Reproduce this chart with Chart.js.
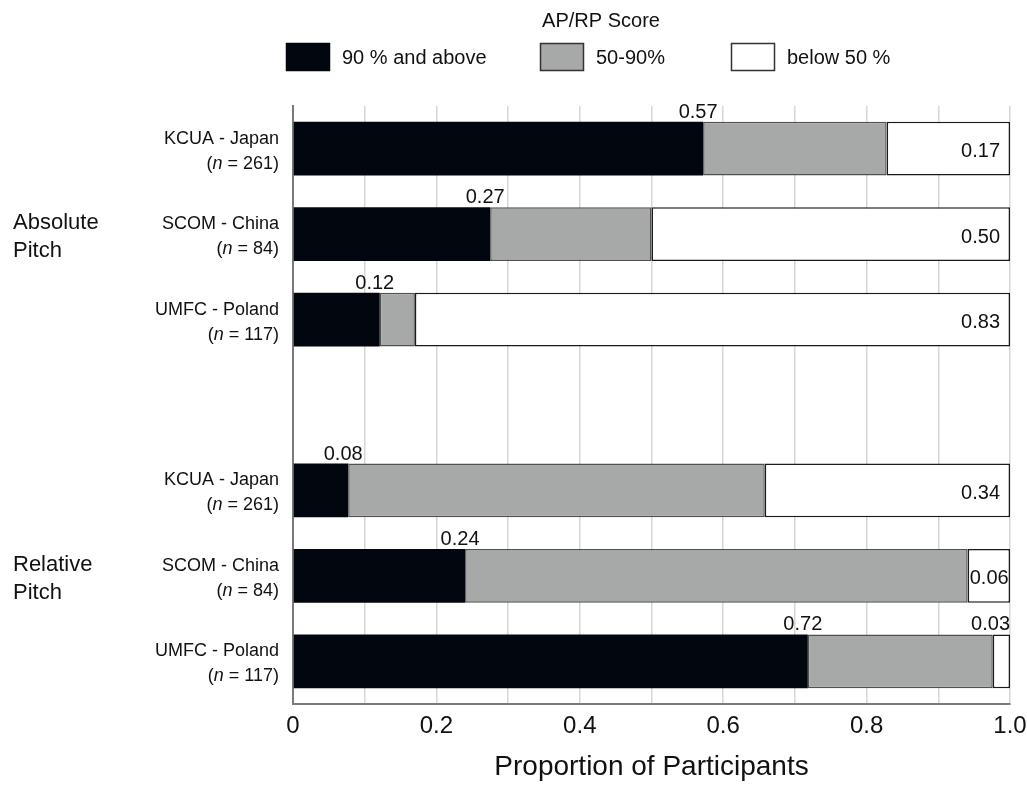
<!DOCTYPE html>
<html lang="en">
<head>
  <meta charset="UTF-8">
  <title>AP/RP Score</title>
  <style>
    body {
      margin: 0;
      background: #ffffff;
    }

    .wrap {
      position: relative;
      width: 1027px;
      height: 785px;
    }
  </style>
</head>
<body>

  <div class="wrap">
    <canvas id="scoreChart"></canvas>
  </div>

  <script src="https://cdn.jsdelivr.net/npm/chart.js"></script>
  <script>
    // rows top to bottom, one empty slot between the two groups
    const schools = ['KCUA - Japan', 'SCOM - China', 'UMFC - Poland', '', 'KCUA - Japan', 'SCOM - China', 'UMFC - Poland'];
    const sampleSizes = ['261', '84', '117', '', '261', '84', '117'];
    const groupNames = [['Absolute', 'Pitch'], ['Relative', 'Pitch']];
    const groupRows = [1, 5];

    const seriesNames = ['90 % and above', '50-90%', 'below 50 %'];
    const above90 = [0.572, 0.275, 0.121, null, 0.077, 0.240, 0.718];
    const from50to90 = [0.256, 0.225, 0.049, null, 0.581, 0.701, 0.258];
    const below50 = [0.172, 0.500, 0.830, null, 0.342, 0.059, 0.024];

    const above90Text = ['0.57', '0.27', '0.12', '', '0.08', '0.24', '0.72'];
    const below50Text = ['0.17', '0.50', '0.83', '', '0.34', '0.06', '0.03'];

    const xTickLabels = ['0', '0.2', '0.4', '0.6', '0.8', '1.0'];

    const FONT = '"Liberation Sans", Arial, Helvetica, sans-serif';
    const colors = ['#02060e', '#a6a9a8', '#ffffff'];
    const borders = ['#02060e', '#505050', '#1a1a1a'];

    const extrasPlugin = {
      id: 'extras',
      afterDraw(chart) {
        const ctx = chart.ctx;
        const xs = chart.scales.x;
        const ys = chart.scales.y;
        ctx.save();
        ctx.fillStyle = '#111';

        // legend
        ctx.font = '20px ' + FONT;
        ctx.textAlign = 'center';
        ctx.textBaseline = 'middle';
        ctx.fillText('AP/RP Score', 601, 21);
        const boxX = [286, 540, 731];
        ctx.textAlign = 'left';
        seriesNames.forEach((name, i) => {
          ctx.fillStyle = colors[i];
          ctx.fillRect(boxX[i], 43, 44, 28);
          ctx.strokeStyle = i === 0 ? colors[0] : '#333';
          ctx.lineWidth = 1.5;
          ctx.strokeRect(boxX[i] + 0.5, 43.5, 43, 27);
          ctx.fillStyle = '#111';
          ctx.fillText(name, boxX[i] + 56, 58);
        });

        // row labels
        schools.forEach((name, i) => {
          if (!name) return;
          const cy = ys.getPixelForValue(i);
          const right = xs.left - 14;
          ctx.textAlign = 'right';
          ctx.font = '18px ' + FONT;
          ctx.fillText(name, right, cy - 10);
          // "(n = 261)" with italic n
          const tail = ' = ' + sampleSizes[i] + ')';
          const wTail = ctx.measureText(tail).width;
          const wOpen = ctx.measureText('(').width;
          ctx.font = 'italic 18px ' + FONT;
          const wN = ctx.measureText('n').width;
          ctx.textAlign = 'left';
          let x = right - wTail - wN - wOpen;
          ctx.font = '18px ' + FONT;
          ctx.fillText('(', x, cy + 15);
          ctx.font = 'italic 18px ' + FONT;
          ctx.fillText('n', x + wOpen, cy + 15);
          ctx.font = '18px ' + FONT;
          ctx.fillText(tail, x + wOpen + wN, cy + 15);
        });

        // group labels
        ctx.font = '22px ' + FONT;
        ctx.textAlign = 'left';
        groupNames.forEach((lines, g) => {
          const cy = ys.getPixelForValue(groupRows[g]);
          ctx.fillText(lines[0], 13, cy - 11);
          ctx.fillText(lines[1], 13, cy + 17);
        });

        // value labels
        ctx.font = '20px ' + FONT;
        const metaTop = chart.getDatasetMeta(0);
        const metaWhite = chart.getDatasetMeta(2);
        schools.forEach((name, i) => {
          if (!name) return;
          const bar = metaTop.data[i];
          const top = bar.y - bar.height / 2;
          ctx.textAlign = 'center';
          ctx.textBaseline = 'alphabetic';
          ctx.fillText(above90Text[i], bar.x - 5, top - 4);

          const wb = metaWhite.data[i];
          const segStart = wb.base;
          const segEnd = wb.x;
          const w = ctx.measureText(below50Text[i]).width;
          if (w + 2 > segEnd - segStart) {
            ctx.textAlign = 'right';
            ctx.fillText(below50Text[i], segEnd, top - 4);
          } else {
            ctx.textAlign = 'right';
            ctx.textBaseline = 'middle';
            const r = Math.max(segEnd - 10, segStart + w + 2);
            ctx.fillText(below50Text[i], r, wb.y + 3);
          }
        });
        ctx.restore();
      }
    };

    const ctx = document.getElementById('scoreChart').getContext('2d');
    const scoreChart = new Chart(ctx, {
      type: 'bar',
      data: {
        labels: schools,
        datasets: [above90, from50to90, below50].map((vals, i) => ({
          label: seriesNames[i],
          data: vals,
          backgroundColor: colors[i],
          borderColor: borders[i],
          borderWidth: i === 0 ? 0 : 1.5,
          borderSkipped: false,
          barPercentage: 0.63,
          categoryPercentage: 1
        }))
      },
      options: {
        indexAxis: 'y',
        responsive: true,
        maintainAspectRatio: false,
        animation: false,
        layout: {
          padding: { left: 293, right: 17, top: 106, bottom: 0 }
        },
        plugins: {
          legend: { display: false },
          tooltip: { enabled: false }
        },
        scales: {
          x: {
            stacked: true,
            min: 0,
            max: 1,
            afterFit(scale) {
              scale.height = 81;
              scale.paddingLeft = 0;
              scale.paddingRight = 0;
            },
            ticks: {
              stepSize: 0.1,
              autoSkip: false,
              maxRotation: 0,
              padding: 8,
              color: '#111',
              font: { family: FONT, size: 24 },
              callback: (value, index) => index % 2 === 0 ? xTickLabels[index / 2] : ''
            },
            grid: {
              color: '#d6d6d6',
              lineWidth: 1.5,
              drawTicks: false
            },
            border: { color: '#7a7a7a', width: 2 },
            title: {
              display: true,
              text: 'Proportion of Participants',
              color: '#111',
              font: { family: FONT, size: 28, lineHeight: 1 },
              padding: { top: 0, bottom: 4 }
            }
          },
          y: {
            stacked: true,
            afterFit(scale) { scale.width = 0; },
            ticks: { display: false },
            grid: { display: false, drawTicks: false },
            border: { color: '#7a7a7a', width: 2 }
          }
        }
      },
      plugins: [extrasPlugin]
    });
  </script>

</body>
</html>
